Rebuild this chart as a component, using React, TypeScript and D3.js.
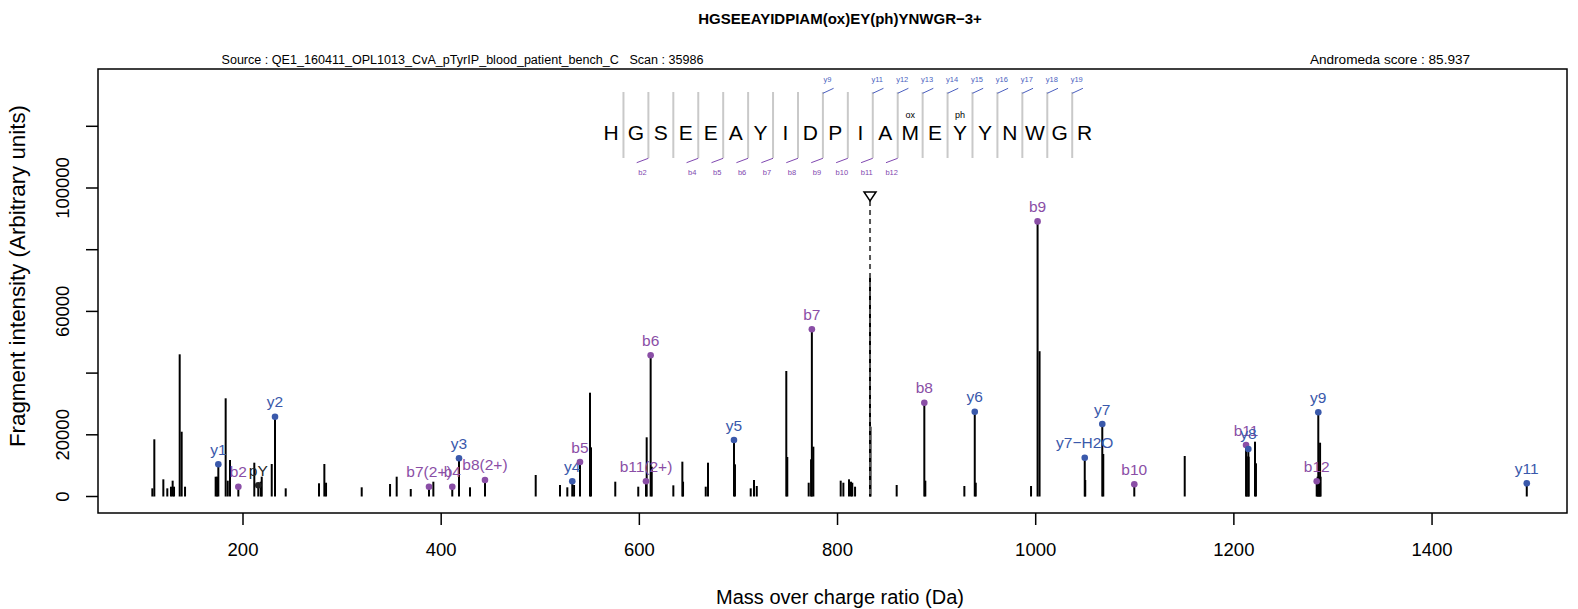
import React, { useEffect } from "react";
import * as d3 from "d3";

// ---------- data ----------
const titleText = "HGSEEAYIDPIAM(ox)EY(ph)YNWGR\u22123+";
const sourceText = "Source : QE1_160411_OPL1013_CvA_pTyrIP_blood_patient_bench_C\u00a0\u00a0\u00a0Scan : 35986";
const scoreText = "Andromeda score : 85.937";
const xLabel = "Mass over charge ratio (Da)";
const yLabel = "Fragment intensity (Arbitrary units)";

const xTicks = [200, 400, 600, 800, 1000, 1200, 1400];
const yTicks = [0, 20000, 40000, 60000, 80000, 100000, 120000];
const yTickLabels = [0, 20000, 60000, 100000];

// unannotated peaks: [m/z, intensity]
const peaks: [number, number][] = [
  [108.5, 2650], [110.5, 18540], [119.6, 5570], [123.6, 2650], [127.3, 3180], [129.0, 5130],
  [130.4, 3180], [136.1, 46090], [138.1, 21000], [141.5, 3180], [172.4, 6420], [173.8, 6420],
  [182.5, 31830], [184.6, 5130], [186.9, 11830], [211.4, 10960], [217.9, 4800], [218.9, 6420],
  [229.0, 10530], [243.1, 2650], [276.7, 4280], [282.1, 10530], [283.8, 4470], [319.8, 2980],
  [348.4, 4050], [355.1, 6420], [369.3, 2430], [392.1, 4800], [429.1, 2980], [495.4, 6970],
  [519.9, 3730], [527.3, 2980], [534.1, 3730], [550.2, 33650], [551.2, 15940], [575.7, 4800],
  [598.9, 3180], [607.4, 19190], [612.5, 9660], [634.3, 3620], [643.4, 11290], [644.1, 4800],
  [667.0, 3180], [669.3, 10960], [696.5, 10430], [712.4, 2650], [715.7, 5350], [718.5, 3400],
  [748.3, 40680], [749.3, 12800], [770.9, 4470], [773.3, 12050], [775.6, 16150], [803.2, 5130],
  [805.9, 4470], [811.6, 5570], [813.6, 4800], [814.9, 4470], [817.7, 3180], [832.8, 71250],
  [833.3, 22630], [859.7, 3730], [888.6, 5130], [928.0, 3400], [939.5, 4470], [995.3, 3400],
  [1003.9, 47100], [1050.0, 5350], [1068.2, 13780], [1150.4, 13130], [1213.0, 13000],
  [1214.9, 12900], [1221.3, 17770], [1222.3, 10760], [1284.5, 6420], [1286.0, 6420],
  [1287.0, 17440], [1287.5, 6420],
];

// annotated fragment ions
const ionLabels = ["y1", "b2", "pY", "y2", "b7(2+)", "b4", "y3", "b8(2+)", "y4", "b5", "b11(2+)", "b6",
  "y5", "b7", "b8", "y6", "b9", "y7\u2212H2O", "y7", "b10", "b11", "y8", "b12", "y9", "y11"];
const ionMz = [175.1, 195.3, 215.4, 232.3, 387.7, 411.2, 418.0, 444.2, 532.3, 540.1, 606.7, 611.4,
  695.5, 774.1, 887.6, 938.5, 1001.9, 1049.5, 1067.2, 1099.5, 1212.3, 1214.6, 1283.6, 1285.2, 1495.6];
const ionIntensity = [10430, 3180, 3620, 25870, 3180, 3180, 12380, 5350, 4930, 11180, 4930, 45770,
  18310, 54200, 30400, 27490, 89180, 12580, 23500, 3950, 16690, 15400, 4930, 27290, 4280];

const precursorMz = 832.8;

// sequence panel
const sequence = ["H", "G", "S", "E", "E", "A", "Y", "I", "D", "P", "I", "A", "M", "E", "Y", "Y", "N", "W", "G", "R"];
const modPositions = [12, 14];
const modLabels = ["ox", "ph"];
const yBreaks = [9, 11, 12, 13, 14, 15, 16, 17, 18, 19];
const yBreakLabels = ["y9", "y11", "y12", "y13", "y14", "y15", "y16", "y17", "y18", "y19"];
const bBreaks = [2, 4, 5, 6, 7, 8, 9, 10, 11, 12];
const bBreakLabels = ["b2", "b4", "b5", "b6", "b7", "b8", "b9", "b10", "b11", "b12"];

// ---------- styles ----------
const W = 1578;
const H = 609;
const FONT = "'Liberation Sans', Arial, Helvetica, sans-serif";
const BLUE = "#3a59ab";
const PURPLE = "#8a4ea6";
const BLUE_L = "#4a5fc0";
const PURPLE_L = "#7f48b0";

function ionColor(label: string) {
  if (label.startsWith("y")) return BLUE;
  if (label.startsWith("b")) return PURPLE;
  return "#222";
}

export default function App() {
  useEffect(() => {
    document.body.style.margin = "0";
  }, []);

  const x = d3.scaleLinear().domain([53.66, 1536.2]).range([98, 1567]);
  const y = d3.scaleLinear().domain([-5348, 138574]).range([513, 69]);
  const sx = d3.scaleLinear().domain([0, 19]).range([611, 611 + 19 * 24.93]);

  const plotL = 98, plotR = 1567, plotT = 69, plotB = 513;
  const seqTop = 92, seqBot = 158;

  return (
    <svg width={W} height={H} style={{ position: "absolute", left: 0, top: 0, background: "#fff" }} fontFamily={FONT}>
      <rect x={0} y={0} width={W} height={H} fill="#fff" />
      {/* titles */}
      <text x={840} y={24} textAnchor="middle" fontWeight="bold" fontSize={15}>{titleText}</text>
      <text x={221.5} y={63.5} fontSize={12.5} textLength={482} lengthAdjust="spacingAndGlyphs">{sourceText}</text>
      <text x={1390} y={63.5} fontSize={13.6} textAnchor="middle">{scoreText}</text>

      {/* sequence panel */}
      {d3.range(1, sequence.length).map((k) => (
        <line key={"div" + k} x1={sx(k - 0.5)} x2={sx(k - 0.5)} y1={seqTop} y2={seqBot} stroke="#c9c9c9" strokeWidth={2} />
      ))}
      {sequence.map((s, i) => (
        <text key={"aa" + i} x={sx(i)} y={140} textAnchor="middle" fontSize={21}>{s}</text>
      ))}
      {modPositions.map((p, i) => (
        <text key={"mod" + i} x={sx(p)} y={117.5} textAnchor="middle" fontSize={9}>{modLabels[i]}</text>
      ))}
      {yBreaks.map((k, i) => {
        const d = sx(k - 0.5);
        return (
          <g key={"yb" + k}>
            <line x1={d} y1={93.3} x2={d + 10.7} y2={88.3} stroke={BLUE_L} strokeWidth={1} />
            <text x={d + 4.5} y={81.5} textAnchor="middle" fontSize={7.5} fill={BLUE_L}>{yBreakLabels[i]}</text>
          </g>
        );
      })}
      {bBreaks.map((k, i) => {
        const d = sx(k - 0.5);
        return (
          <g key={"bb" + k}>
            <line x1={d - 11.7} y1={162.7} x2={d} y2={158.3} stroke={PURPLE_L} strokeWidth={1} />
            <text x={d - 6} y={175} textAnchor="middle" fontSize={7.5} fill={PURPLE_L}>{bBreakLabels[i]}</text>
          </g>
        );
      })}

      {/* peaks */}
      {peaks.map(([m, v], i) => (
        <line key={"p" + i} x1={x(m)} x2={x(m)} y1={y(0)} y2={y(v)} stroke="#000" strokeWidth={2} />
      ))}
      {ionMz.map((m, i) => (
        <line key={"ip" + i} x1={x(m)} x2={x(m)} y1={y(0)} y2={y(ionIntensity[i])} stroke="#000" strokeWidth={2} />
      ))}

      {/* precursor */}
      <line x1={x(precursorMz)} x2={x(precursorMz)} y1={201} y2={y(0)} stroke="#555" strokeWidth={2} strokeDasharray="5,4" />
      <path d={`M${x(precursorMz) - 6},${192} L${x(precursorMz) + 6},${192} L${x(precursorMz)},${201} Z`} fill="#fff" stroke="#000" strokeWidth={1.5} />

      {/* ion dots and labels */}
      {ionMz.map((m, i) => (
        <g key={"ion" + i}>
          <circle cx={x(m)} cy={y(ionIntensity[i])} r={3.3} fill={ionColor(ionLabels[i])} />
          <text x={x(m)} y={y(ionIntensity[i]) - 9.5} textAnchor="middle" fontSize={15.5} fill={ionColor(ionLabels[i])}>{ionLabels[i]}</text>
        </g>
      ))}

      {/* box */}
      <rect x={plotL} y={plotT} width={plotR - plotL} height={plotB - plotT} fill="none" stroke="#000" strokeWidth={1.5} />

      {/* x axis */}
      {xTicks.map((t) => (
        <g key={"xt" + t}>
          <line x1={x(t)} x2={x(t)} y1={plotB} y2={plotB + 12} stroke="#000" strokeWidth={1.5} />
          <text x={x(t)} y={556} textAnchor="middle" fontSize={18.5}>{t}</text>
        </g>
      ))}
      <text x={840} y={604} textAnchor="middle" fontSize={20}>{xLabel}</text>

      {/* y axis */}
      {yTicks.map((t) => (
        <line key={"yt" + t} x1={plotL} x2={plotL - 12} y1={y(t)} y2={y(t)} stroke="#000" strokeWidth={1.5} />
      ))}
      {yTickLabels.map((t) => (
        <text key={"yl" + t} transform={`translate(68.5,${y(t)}) rotate(-90)`} textAnchor="middle" fontSize={18.5}>{t}</text>
      ))}
      <text transform={`translate(25,276) rotate(-90)`} textAnchor="middle" fontSize={22.3}>{yLabel}</text>
    </svg>
  );
}
